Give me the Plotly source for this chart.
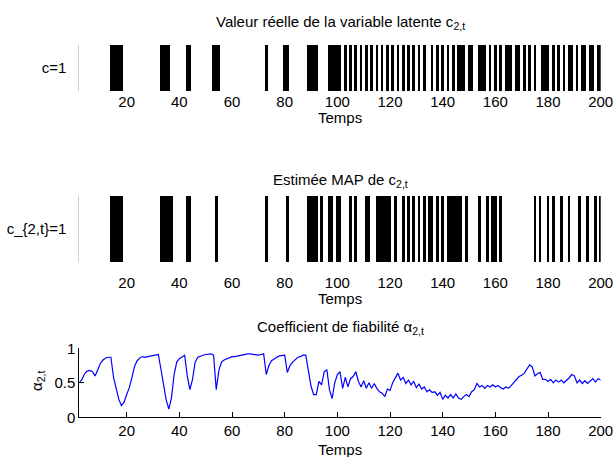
import plotly.graph_objects as go

# ---------------- data ----------------
# time steps where the true latent variable c_{2,t} equals 1
true_on = [14, 15, 16, 17, 18, 33, 34, 35, 36, 43, 44, 53, 54, 55, 73, 80, 81,
           89, 90, 91, 92, 97, 98, 99, 100, 101,
           103, 105, 107, 109, 111, 113, 115, 117, 119, 121, 123, 125, 127, 129, 131, 133,
           136, 138, 140, 142, 144, 146, 147, 148, 150, 151, 154, 155, 156, 158, 160,
           162, 164, 165, 166, 168, 169, 171, 173, 175, 178, 179, 180, 182, 184, 186,
           188, 189, 191, 193, 194, 196, 197, 199, 200]

# time steps where the MAP estimate of c_{2,t} equals 1
map_on = [14, 15, 16, 17, 18, 33, 34, 35, 36, 37, 43, 44, 54, 73, 81,
          89, 90, 91, 92, 94, 97, 98, 100, 101, 105, 107, 111, 112,
          115, 116, 117, 118, 119, 120, 122, 125, 127, 129, 131, 133, 135, 136, 138,
          140, 142, 143, 144, 145, 146, 147, 149, 154, 157, 159, 160, 162,
          175, 177, 180, 182, 185, 188, 192, 195, 198, 200]

# reliability coefficient alpha_{2,t}, t = 2..200
t_alpha = list(range(2, 201))
alpha = [0.50, 0.55, 0.63, 0.67, 0.68, 0.66, 0.60, 0.68, 0.78, 0.83,
         0.86, 0.87, 0.87, 0.58, 0.40, 0.26, 0.17, 0.22, 0.33, 0.43,
         0.58, 0.74, 0.82, 0.86, 0.88, 0.87, 0.88, 0.89, 0.90, 0.91,
         0.91, 0.70, 0.45, 0.25, 0.12, 0.28, 0.62, 0.80, 0.85, 0.87,
         0.90, 0.60, 0.40, 0.55, 0.80, 0.87, 0.89, 0.90, 0.91, 0.91,
         0.92, 0.90, 0.40, 0.68, 0.80, 0.83, 0.85, 0.87, 0.88, 0.88,
         0.89, 0.90, 0.91, 0.92, 0.92, 0.92, 0.91, 0.91, 0.90, 0.91,
         0.92, 0.62, 0.75, 0.82, 0.85, 0.87, 0.89, 0.90, 0.90, 0.65,
         0.75, 0.80, 0.84, 0.87, 0.88, 0.90, 0.90, 0.70, 0.45, 0.33,
         0.33, 0.52, 0.47, 0.66, 0.69, 0.40, 0.27, 0.50, 0.62, 0.66,
         0.42, 0.58, 0.44, 0.56, 0.59, 0.66, 0.52, 0.44, 0.53, 0.42,
         0.50, 0.42, 0.49, 0.42, 0.37, 0.35, 0.30, 0.41, 0.39, 0.50,
         0.57, 0.64, 0.54, 0.58, 0.49, 0.54, 0.47, 0.52, 0.43, 0.48,
         0.41, 0.44, 0.37, 0.40, 0.36, 0.37, 0.32, 0.36, 0.26, 0.32,
         0.28, 0.33, 0.28, 0.34, 0.28, 0.26, 0.30, 0.33, 0.30, 0.37,
         0.40, 0.49, 0.44, 0.46, 0.42, 0.46, 0.44, 0.47, 0.44, 0.46,
         0.43, 0.41, 0.44, 0.42, 0.46, 0.50, 0.55, 0.59, 0.61, 0.64,
         0.70, 0.76, 0.73, 0.60, 0.63, 0.65, 0.55, 0.55, 0.52, 0.55,
         0.50, 0.54, 0.51, 0.54, 0.50, 0.53, 0.57, 0.62, 0.60, 0.50,
         0.54, 0.49, 0.53, 0.49, 0.53, 0.56, 0.51, 0.56, 0.54]

x_ticks = [20, 40, 60, 80, 100, 120, 140, 160, 180, 200]
alpha_ticks = [0, 0.5, 1]

# ---------------- figure ----------------
W, H = 616, 457
FONT = "Liberation Sans, Arial, Helvetica, sans-serif"
FS = 15

def px_x(p):
    return p / W

def px_y(p):
    return 1 - p / H

xdom = [px_x(79.3), px_x(600.7)]

fig = go.Figure()
fig.add_trace(go.Bar(x=true_on, y=[1] * len(true_on), width=1.0,
                     marker=dict(color="black", line=dict(width=0)),
                     xaxis="x", yaxis="y", showlegend=False, hoverinfo="skip"))
fig.add_trace(go.Bar(x=map_on, y=[1] * len(map_on), width=1.0,
                     marker=dict(color="black", line=dict(width=0)),
                     xaxis="x2", yaxis="y2", showlegend=False, hoverinfo="skip"))
fig.add_trace(go.Scatter(x=t_alpha, y=alpha, mode="lines",
                         line=dict(color="#0000ff", width=1.2),
                         xaxis="x3", yaxis="y3", showlegend=False, hoverinfo="skip"))

common_x = dict(range=[2, 200], tickvals=x_ticks, ticks="", showgrid=False,
                zeroline=False, showline=False, automargin=False,
                tickfont=dict(size=FS, color="black"))

fig.update_layout(
    width=W, height=H,
    margin=dict(l=0, r=0, t=0, b=0, autoexpand=False),
    paper_bgcolor="white", plot_bgcolor="white",
    font=dict(family=FONT, size=FS, color="black"),
    bargap=0,
    xaxis=dict(domain=xdom, anchor="y", **common_x),
    yaxis=dict(domain=[px_y(91), px_y(45)], range=[0, 1], tickvals=[0.5],
               ticktext=["c=1"], ticks="", showgrid=False, zeroline=False,
               showline=True, linecolor="#d0d0d0", linewidth=1, automargin=False,
               ticklabelstandoff=9, tickfont=dict(size=FS, color="black")),
    xaxis2=dict(domain=xdom, anchor="y2", ticklabelstandoff=10, **common_x),
    yaxis2=dict(domain=[px_y(262), px_y(196)], range=[0, 1], tickvals=[0.5],
                ticktext=["c_{2,t}=1"], ticks="", showgrid=False, zeroline=False,
                showline=True, linecolor="#d0d0d0", linewidth=1, automargin=False,
                ticklabelstandoff=9, tickfont=dict(size=FS, color="black")),
    xaxis3=dict(domain=xdom, anchor="y3", range=[2, 200], tickvals=x_ticks,
                ticks="inside", ticklen=5, tickcolor="black", showgrid=False,
                zeroline=False, showline=True, linecolor="black", linewidth=1,
                automargin=False, tickfont=dict(size=FS, color="black")),
    yaxis3=dict(domain=[px_y(417.3), px_y(348.3)], range=[0, 1], tickvals=alpha_ticks,
                ticktext=["0", "0.5", "1"],
                ticks="inside", ticklen=5, tickcolor="black", showgrid=False,
                zeroline=False, showline=True, linecolor="black", linewidth=1,
                automargin=False, tickfont=dict(size=FS, color="black")),
)

def ann(text, x, y, **kw):
    fig.add_annotation(text=text, x=px_x(x), y=px_y(y), xref="paper", yref="paper",
                       xanchor="center", yanchor="middle",
                       showarrow=False, font=dict(family=FONT, size=FS, color="black"),
                       **kw)

cx = (79.3 + 600.7) / 2
ann("Valeur réelle de la variable latente c<sub>2,t</sub>", cx, 22)
ann("Temps", cx, 117)
ann("Estimée MAP de c<sub>2,t</sub>", cx, 180)
ann("Temps", cx, 298)
ann("Coefficient de fiabilité α<sub>2,t</sub>", cx, 327)
ann("Temps", cx, 449)
ann("α<sub>2,t</sub>", 37, 381, textangle=-90)

fig.write_html("out.html", config={"displayModeBar": False, "staticPlot": True},
               post_script="document.body.style.margin='0';"
                           "document.body.style.overflow='hidden';")
